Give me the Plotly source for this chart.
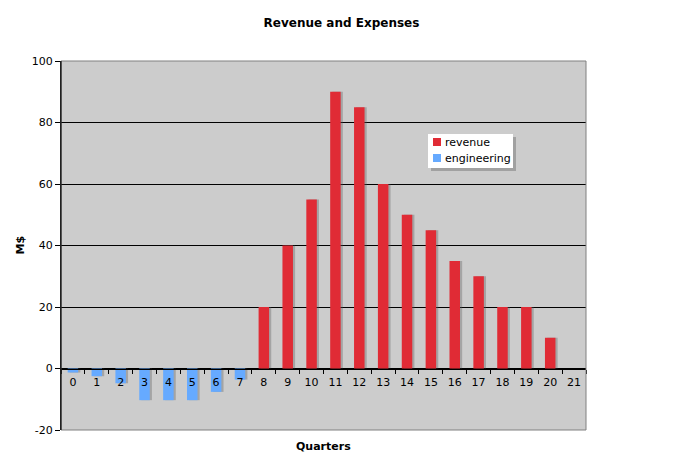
import plotly.graph_objects as go

quarters = [str(i) for i in range(22)]
revenue = [0, 0, 0, 0, 0, 0, 0, 0, 20, 40, 55, 90, 85, 60, 50, 45, 35, 30, 20, 20, 10, 0]
engineering = [-1.3, -2.5, -4.8, -10.3, -10.3, -10.3, -7.6, -3.6, 0, 0, 0, 0, 0, 0, 0, 0, 0, 0, 0, 0, 0, 0]
y_ticks = [-20, 0, 20, 40, 60, 80, 100]
series_names = ["revenue", "engineering"]
series_colors = ["#e02b35", "#66aaff"]

L, R, T, B = 61, 97, 61, 37
PW, PH = 683 - L - R, 467 - T - B


def px(x):
    return (x - L) / PW


def py(y):
    return (467 - B - y) / PH


W = 0.44
fig = go.Figure()
for vals in (revenue, engineering):
    fig.add_trace(go.Bar(x=quarters, y=vals, width=W, offset=-W / 2 + 0.09,
                         marker=dict(color="rgba(90,90,90,0.35)", line=dict(width=0)),
                         showlegend=False, hoverinfo="skip"))
for vals, name, col in zip((revenue, engineering), series_names, series_colors):
    fig.add_trace(go.Bar(x=quarters, y=vals, name=name, width=W, offset=-W / 2,
                         marker=dict(color=col, line=dict(width=0)), showlegend=False))

shapes = [
    dict(type="rect", xref="paper", yref="paper", x0=0, x1=1, y0=0, y1=1,
         line=dict(color="#808080", width=1), layer="above"),
    dict(type="line", xref="paper", yref="paper", x0=0, x1=0, y0=0, y1=1,
         line=dict(color="black", width=1), layer="above"),
    # legend shadow + box
    dict(type="rect", xref="paper", yref="paper", x0=px(431), x1=px(516), y0=py(171), y1=py(137),
         fillcolor="rgba(80,80,80,0.35)", line=dict(width=0), layer="above"),
    dict(type="rect", xref="paper", yref="paper", x0=px(428), x1=px(513), y0=py(168), y1=py(134),
         fillcolor="white", line=dict(width=0), layer="above"),
]
annotations = [
    dict(text="<b>Quarters</b>", xref="paper", yref="paper", x=0.5, y=py(446),
         xanchor="center", yanchor="middle", showarrow=False, font=dict(size=11)),
    dict(text="<b>M$</b>", xref="paper", yref="paper", x=px(20), y=0.5, textangle=-90,
         xanchor="center", yanchor="middle", showarrow=False, font=dict(size=11)),
]
for i, (name, col) in enumerate(zip(series_names, series_colors)):
    yc = 142 + i * 16
    shapes.append(dict(type="rect", xref="paper", yref="paper", x0=px(433), x1=px(441),
                       y0=py(yc + 4), y1=py(yc - 4), fillcolor=col, line=dict(width=0), layer="above"))
    annotations.append(dict(text=name, xref="paper", yref="paper", x=px(443), y=py(yc),
                            xanchor="left", yanchor="middle", showarrow=False, font=dict(size=11)))

fig.update_layout(
    width=683, height=467,
    margin=dict(l=L, r=R, t=T, b=B),
    paper_bgcolor="white", plot_bgcolor="#cccccc",
    barmode="overlay", showlegend=False,
    font=dict(family="DejaVu Sans, Verdana, sans-serif", size=11, color="black"),
    title=dict(text="<b>Revenue and Expenses</b>", x=0.5, xanchor="center", y=0.951, yanchor="middle",
               font=dict(size=12)),
    xaxis=dict(type="category", tickson="boundaries", ticks="outside", ticklen=4, tickcolor="black",
               showline=True, linecolor="black", linewidth=1, showgrid=False, zeroline=False,
               anchor="free", position=20 / 120, range=[-0.5, 21.5], automargin=False,
               tickfont=dict(size=11), ticklabelstandoff=3),
    yaxis=dict(range=[-20, 100], tickvals=y_ticks, ticktext=[str(v) for v in y_ticks],
               ticks="outside", ticklen=5, tickcolor="black", automargin=False,
               showline=True, linecolor="black", linewidth=1, showgrid=True, gridcolor="black",
               gridwidth=1, zeroline=False, tickfont=dict(size=11)),
    shapes=shapes,
    annotations=annotations,
)

fig.write_html("out.html")
